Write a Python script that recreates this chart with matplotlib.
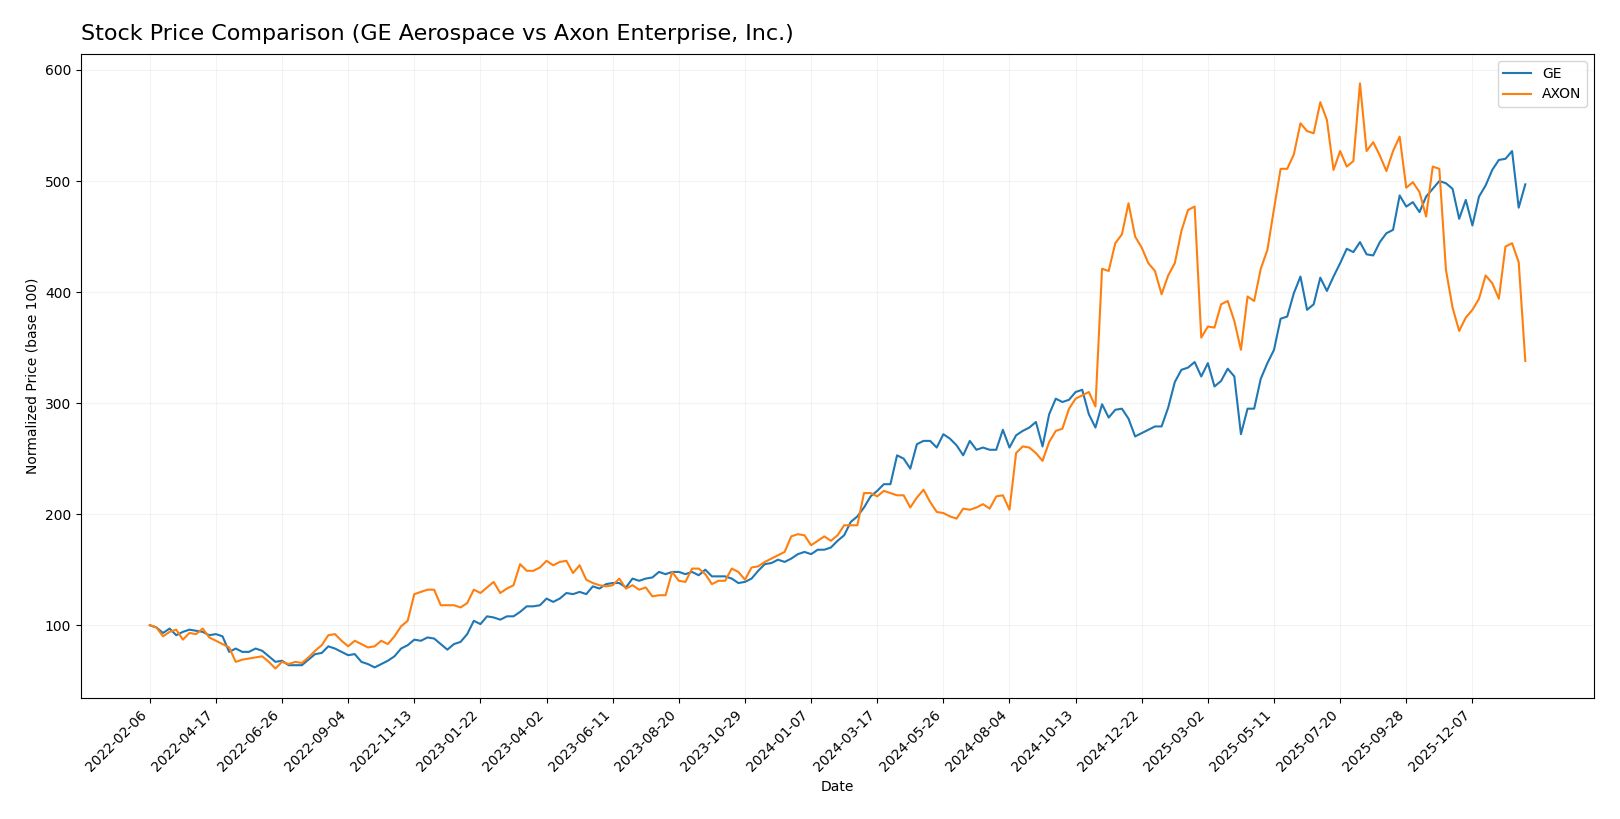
import pandas as pd
import matplotlib
matplotlib.use('Agg')
import matplotlib.pyplot as plt

# weekly closes normalised to 100 at the first week
start_date = '2022-02-06'
n_weeks = 209

ge = [100, 98, 93, 97, 91, 94, 96, 95, 94, 91,
      92, 90, 76, 79, 76, 76, 79, 77, 72, 67,
      68, 64, 64, 64, 69, 74, 75, 81, 79, 76,
      73, 74, 67, 65, 62, 65, 68, 72, 79, 82,
      87, 86, 89, 88, 83, 78, 83, 85, 92, 104,
      101, 108, 107, 105, 108, 108, 112, 117, 117, 118,
      124, 121, 124, 129, 128, 130, 128, 135, 133, 137,
      138, 138, 134, 142, 140, 142, 143, 148, 146, 148,
      148, 146, 148, 145, 150, 144, 144, 144, 142, 138,
      139, 142, 149, 155, 156, 159, 157, 160, 164, 166,
      164, 168, 168, 170, 176, 181, 193, 198, 206, 216,
      221, 227, 227, 253, 250, 241, 263, 266, 266, 260,
      272, 268, 262, 253, 266, 258, 260, 258, 258, 276,
      260, 271, 275, 278, 283, 261, 290, 304, 301, 303,
      310, 312, 290, 278, 299, 287, 294, 295, 286, 270,
      273, 276, 279, 279, 296, 319, 330, 332, 337, 324,
      336, 315, 320, 331, 324, 272, 295, 295, 322, 336,
      348, 376, 378, 399, 414, 384, 389, 413, 401, 414,
      426, 439, 436, 445, 434, 433, 445, 453, 456, 487,
      477, 481, 472, 486, 493, 500, 498, 493, 466, 483,
      460, 486, 496, 510, 519, 520, 527, 476, 497]

axon = [100, 98, 90, 94, 96, 87, 93, 92, 97, 89,
        86, 83, 80, 67, 69, 70, 71, 72, 67, 61,
        67, 65, 67, 66, 71, 77, 82, 91, 92, 86,
        81, 86, 83, 80, 81, 86, 83, 90, 99, 104,
        128, 130, 132, 132, 118, 118, 118, 116, 120, 132,
        129, 134, 139, 129, 133, 136, 155, 149, 149, 152,
        158, 154, 157, 158, 147, 154, 141, 138, 136, 135,
        136, 142, 133, 136, 132, 134, 126, 127, 127, 148,
        140, 139, 151, 151, 146, 137, 140, 140, 151, 148,
        141, 152, 153, 157, 160, 163, 166, 180, 182, 181,
        172, 176, 180, 176, 181, 190, 190, 190, 219, 219,
        216, 221, 219, 217, 217, 206, 215, 222, 211, 202,
        201, 198, 196, 205, 204, 206, 209, 205, 216, 217,
        204, 255, 261, 260, 255, 248, 265, 275, 277, 295,
        304, 307, 310, 297, 421, 419, 444, 452, 480, 450,
        440, 426, 419, 398, 415, 426, 455, 474, 477, 359,
        369, 368, 389, 392, 374, 348, 396, 392, 421, 438,
        475, 511, 511, 524, 552, 545, 543, 571, 555, 510,
        527, 513, 518, 588, 527, 535, 523, 509, 527, 540,
        494, 499, 490, 468, 513, 511, 420, 386, 365, 377,
        384, 394, 415, 408, 394, 441, 444, 427, 338]

dates = pd.date_range(start_date, periods=n_weeks, freq='7D')

fig, ax = plt.subplots(figsize=(16.2, 8.19), dpi=100)
ax.plot(dates, ge, label='GE', color='#1f77b4', linewidth=1.5)
ax.plot(dates, axon, label='AXON', color='#ff7f0e', linewidth=1.5)

ticks = dates[::10]
ax.set_xticks(ticks)
ax.set_xticklabels([d.strftime('%Y-%m-%d') for d in ticks], rotation=45, ha='right')

ax.set_title('Stock Price Comparison (GE Aerospace vs Axon Enterprise, Inc.)', loc='left', fontsize=16, pad=10)
ax.set_xlabel('Date')
ax.set_ylabel('Normalized Price (base 100)')
ax.grid(True, alpha=0.15)
ax.legend(loc='upper right')

plt.subplots_adjust(left=0.050, right=0.984, top=0.934, bottom=0.148)
plt.savefig('out.png')
plt.close()
